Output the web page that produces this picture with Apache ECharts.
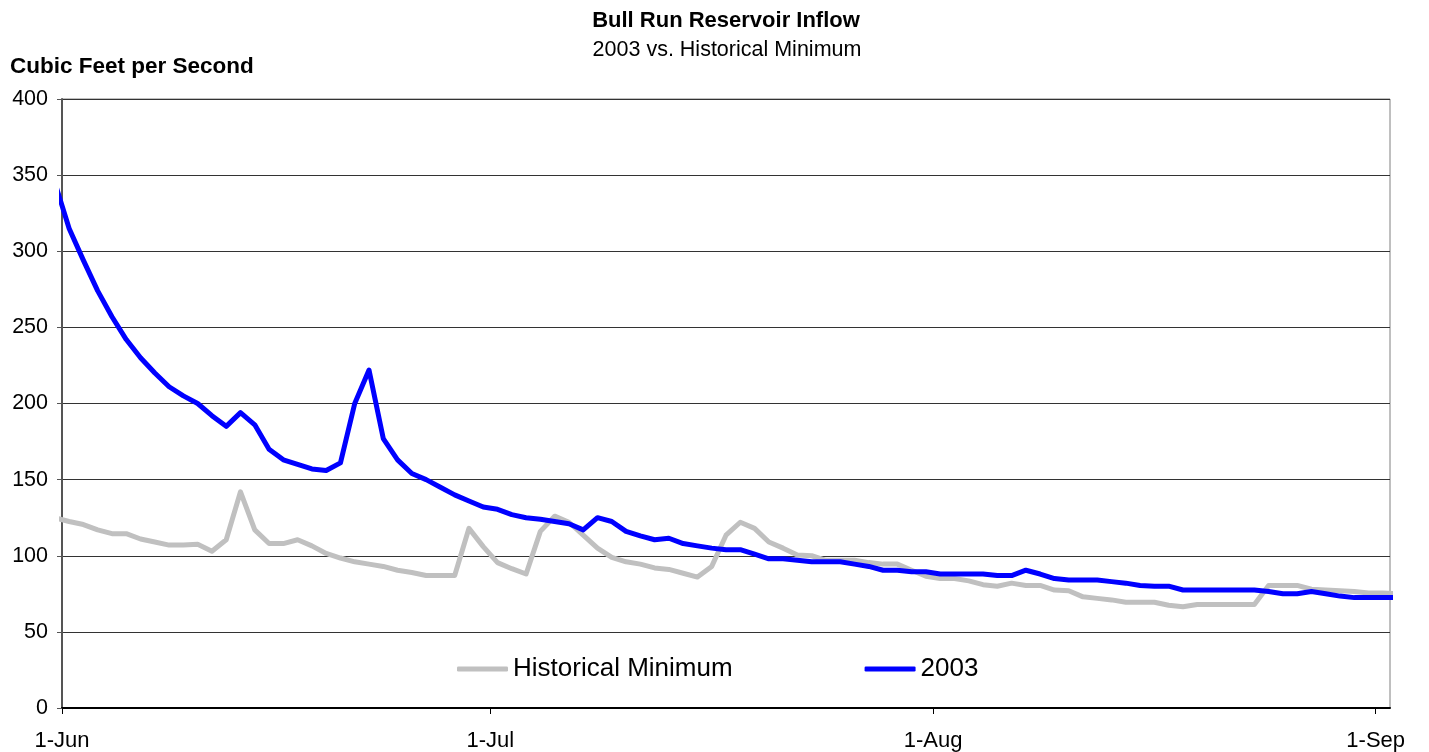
<!DOCTYPE html>
<html>
<head>
<meta charset="utf-8">
<script src="https://cdn.jsdelivr.net/npm/echarts@6/dist/echarts.min.js"></script>
<style>
html,body{margin:0;padding:0;background:#fff;}
#chart{width:1429px;height:752px;}
</style>
</head>
<body>
<div id="chart"></div>
<script>
// Daily values, first entry = 31 May, last entry = 2 Sep (day offsets from 1 Jun: -1 .. 93)
const firstDayOffset = -1;
const seriesNames = ['Historical Minimum', '2003'];
const historicalMinimum = [
  125, 122.5, 120.5, 117, 114.5, 114.5, 111, 109, 107, 107,
  107.5, 103, 110.5, 142, 117, 108, 108, 110.5, 106.5, 101.5,
  98.5, 96, 94.5, 93, 90.5, 89, 87, 87, 87, 118,
  106, 95.5, 91.5, 88, 116, 126, 122, 113.5, 105, 99,
  96, 94.5, 92, 91, 88.5, 86, 93, 113.5, 122, 118,
  109, 105, 100.5, 100, 97, 97, 97, 95.5, 94.5, 94.5,
  90.5, 86.5, 85, 85, 83.5, 81, 80, 82, 80.5, 80.5,
  77.5, 77, 73, 72, 71, 69.5, 69.5, 69.5, 67.5, 66.5,
  68, 68, 68, 68, 68, 80.5, 80.5, 80.5, 78, 77.5,
  77, 76.5, 75.5, 75.5, 75
];
const inflow2003 = [
  345, 315, 294, 274, 257, 242, 230, 220, 211, 205,
  200, 192, 185, 194, 186, 170, 163, 160, 157, 156,
  161, 200, 222, 177, 163, 154, 150, 145, 140, 136,
  132, 130.5, 127, 125, 124, 122.5, 121, 117, 125, 122.5,
  116, 113, 110.5, 111.5, 108, 106.5, 105, 104, 104, 101,
  98, 98, 97, 96, 96, 96, 94.5, 93, 90.5, 90.5,
  89.5, 89.5, 88, 88, 88, 88, 87, 87, 90.5, 88,
  85, 84, 84, 84, 83, 82, 80.5, 80, 80, 77.5,
  77.5, 77.5, 77.5, 77.5, 77.5, 76.5, 75, 75, 76.5, 75,
  73.5, 72.5, 72.5, 72.5, 72.5
];
const xTickDays = [0, 30, 61, 92];
const xTickLabels = ['1-Jun', '1-Jul', '1-Aug', '1-Sep'];
const yTicks = [0, 50, 100, 150, 200, 250, 300, 350, 400];

function toPoints(values) {
  // each daily value is plotted at the middle of its day
  return values.map((v, i) => [firstDayOffset + i + 0.5, v]);
}

const font = '"Liberation Sans", Arial, sans-serif';
const chart = echarts.init(document.getElementById('chart'), null, {renderer: 'canvas'});
chart.setOption({
  animation: false,
  backgroundColor: '#ffffff',
  title: [
    {text: 'Bull Run Reservoir Inflow', left: 721, textAlign: 'center', top: 5,
     textStyle: {fontFamily: font, fontSize: 22, fontWeight: 'bold', color: '#000'}},
    {text: '2003 vs. Historical Minimum', left: 722, textAlign: 'center', top: 34,
     textStyle: {fontFamily: font, fontSize: 21.5, fontWeight: 'normal', color: '#000'}},
    {text: 'Cubic Feet per Second', left: 5, top: 50,
     textStyle: {fontFamily: font, fontSize: 22.5, fontWeight: 'bold', color: '#000'}}
  ],
  legend: {
    left: 452, top: 651,
    itemWidth: 51, itemHeight: 5, itemGap: 132,
    icon: 'roundRect',
    textStyle: {fontFamily: font, fontSize: 26, color: '#000', padding: [0, 0, 0, 0]},
    data: seriesNames
  },
  grid: {left: 62, right: 39, top: 99, bottom: 44, containLabel: false,
         show: true, borderColor: '#808080', borderWidth: 1, backgroundColor: 'transparent'},
  xAxis: {
    type: 'value', min: 0, max: 93,
    axisLine: {show: true, lineStyle: {color: '#000', width: 2}},
    axisTick: {show: true, length: 6, lineStyle: {color: '#000', width: 1}, customValues: xTickDays},
    axisLabel: {fontFamily: font, fontSize: 22, color: '#000', margin: 22, customValues: xTickDays,
      formatter: function (v) { const k = xTickDays.indexOf(v); return k >= 0 ? xTickLabels[k] : ''; }},
    splitLine: {show: false}
  },
  yAxis: {
    type: 'value', min: 0, max: 400, interval: 50,
    axisLine: {show: true, lineStyle: {color: '#555', width: 2}},
    axisTick: {show: true, length: 5, lineStyle: {color: '#555'}},
    axisLabel: {fontFamily: font, fontSize: 21.5, color: '#000', margin: 14,
      formatter: function (v) { return yTicks.indexOf(v) >= 0 ? String(v) : ''; }},
    splitLine: {show: true, lineStyle: {color: '#333', width: 1}}
  },
  series: [
    {name: seriesNames[0], type: 'line', data: toPoints(historicalMinimum), showSymbol: false, symbol: 'none',
     clip: true, lineStyle: {color: '#C0C0C0', width: 5, join: 'round'}, itemStyle: {color: '#C0C0C0'}, z: 2},
    {name: seriesNames[1], type: 'line', data: toPoints(inflow2003), showSymbol: false, symbol: 'none',
     clip: true, lineStyle: {color: '#0000FF', width: 5, join: 'round'}, itemStyle: {color: '#0000FF'}, z: 3}
  ]
});
</script>
</body>
</html>
